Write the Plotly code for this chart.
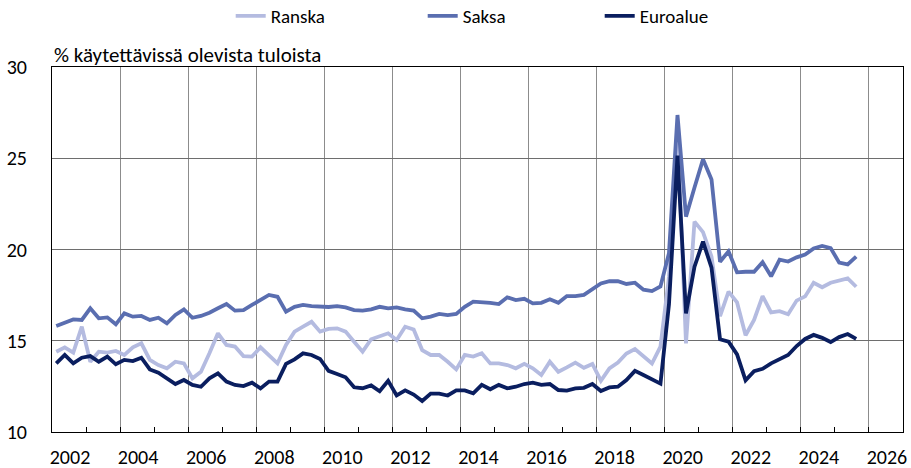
import plotly.graph_objects as go

# quarterly data 2002Q1 .. 2025Q3, % of disposable income
start_year = 2002
ranska = [14.40, 14.64, 14.35, 15.77, 13.85, 14.40, 14.35, 14.44, 14.22, 14.64,
          14.86, 13.95, 13.67, 13.49, 13.85, 13.76, 12.94, 13.30, 14.31, 15.41,
          14.77, 14.68, 14.16, 14.13, 14.64, 14.22, 13.76, 14.77, 15.50, 15.77,
          16.04, 15.50, 15.65, 15.68, 15.50, 14.95, 14.40, 15.08, 15.26, 15.41,
          15.04, 15.77, 15.62, 14.49, 14.22, 14.22, 13.85, 13.43, 14.22, 14.13,
          14.31, 13.76, 13.76, 13.67, 13.49, 13.73, 13.49, 13.12, 13.85, 13.30,
          13.54, 13.80, 13.52, 13.73, 12.81, 13.49, 13.80, 14.30, 14.55, 14.15,
          13.75, 14.68, 18.50, 26.50, 14.86, 21.53, 20.95, 19.61, 16.35, 17.69,
          17.10, 15.30, 16.14, 17.45, 16.55, 16.62, 16.45, 17.20, 17.43, 18.18,
          17.93, 18.18, 18.29, 18.42, 17.96]
saksa = [15.81, 15.99, 16.17, 16.14, 16.78, 16.23, 16.28, 15.90, 16.50, 16.32,
         16.36, 16.14, 16.26, 15.95, 16.41, 16.72, 16.26, 16.36, 16.54, 16.78,
         17.01, 16.65, 16.68, 16.96, 17.23, 17.51, 17.41, 16.59, 16.86, 16.96,
         16.90, 16.86, 16.85, 16.90, 16.83, 16.68, 16.65, 16.72, 16.86, 16.78,
         16.83, 16.72, 16.65, 16.23, 16.32, 16.47, 16.41, 16.47, 16.86, 17.14,
         17.12, 17.08, 17.01, 17.38, 17.23, 17.30, 17.05, 17.08, 17.27, 17.08,
         17.45, 17.45, 17.51, 17.80, 18.14, 18.27, 18.26, 18.11, 18.18, 17.80,
         17.72, 17.98, 19.80, 27.37, 21.80, 23.40, 24.94, 23.83, 19.33, 19.90,
         18.75, 18.78, 18.78, 19.30, 18.53, 19.44, 19.34, 19.57, 19.72, 20.06,
         20.20, 20.08, 19.28, 19.18, 19.61]
euroalue = [13.76, 14.22, 13.76, 14.07, 14.16, 13.85, 14.13, 13.71, 13.95, 13.89,
            14.07, 13.43, 13.25, 12.94, 12.63, 12.85, 12.58, 12.48, 12.94, 13.21,
            12.76, 12.58, 12.52, 12.70, 12.39, 12.76, 12.76, 13.73, 13.98, 14.31,
            14.22, 14.00, 13.35, 13.18, 13.00, 12.45, 12.40, 12.55, 12.23, 12.80,
            12.00, 12.28, 12.05, 11.70, 12.10, 12.10, 12.00, 12.28, 12.28, 12.12,
            12.58, 12.34, 12.58, 12.39, 12.48, 12.63, 12.70, 12.58, 12.63, 12.30,
            12.27, 12.39, 12.42, 12.63, 12.25, 12.44, 12.48, 12.85, 13.35, 13.12,
            12.87, 12.65, 17.00, 25.15, 16.50, 19.06, 20.43, 19.00, 15.08, 14.95,
            14.25, 12.83, 13.33, 13.46, 13.76, 13.97, 14.22, 14.71, 15.10, 15.32,
            15.16, 14.93, 15.20, 15.37, 15.10]

# x position = middle of each quarter
x = [start_year + (i + 0.5) / 4 for i in range(len(euroalue))]

font_family = 'Carlito, Calibri, Lato, sans-serif'

fig = go.Figure()
fig.add_trace(go.Scatter(x=x, y=ranska, mode='lines', name='Ranska',
                         line=dict(color='#b4bbe0', width=3.8), legend='legend'))
fig.add_trace(go.Scatter(x=x, y=saksa, mode='lines', name='Saksa',
                         line=dict(color='#5a6eb0', width=3.8), legend='legend2'))
fig.add_trace(go.Scatter(x=x, y=euroalue, mode='lines', name='Euroalue',
                         line=dict(color='#0a1e5f', width=3.8), legend='legend3'))

# one legend per series so each entry sits where the original has it
def legend_at(px):
    return dict(orientation='h', xref='container', yref='container',
                x=(px - 5.3) / 911, y=1 - 16 / 468, xanchor='left',
                yanchor='middle', font=dict(size=19))

fig.update_layout(
    width=911, height=468,
    margin=dict(l=52, r=8, t=67, b=36),
    paper_bgcolor='white', plot_bgcolor='white',
    font=dict(family=font_family, size=20, color='black'),
    showlegend=True,
    legend=legend_at(236),
    legend2=legend_at(428),
    legend3=legend_at(605),
    annotations=[dict(text='% käytettävissä olevista tuloista',
                      xref='paper', yref='paper', x=0, y=1,
                      xanchor='left', yanchor='bottom', showarrow=False,
                      xshift=0, yshift=-3, font=dict(size=21))],
)

fig.update_xaxes(range=[2002, 2027], tick0=2002, dtick=2, tickformat='d',
                 showgrid=True, gridcolor='#8c8c8c', gridwidth=1,
                 ticks='inside', ticklen=5, tickcolor='black',
                 ticklabelshift=18, ticklabelstandoff=7, automargin=False,
                 minor=dict(dtick=1, tick0=2002, ticks='inside', ticklen=5,
                            tickcolor='black', showgrid=False),
                 showline=True, linecolor='black', linewidth=1, mirror=True,
                 zeroline=False)
fig.update_yaxes(range=[10, 30], dtick=5, showgrid=True, gridcolor='#6e6e6e',
                 gridwidth=1, ticks='', ticklabelstandoff=20, automargin=False,
                 showline=True, linecolor='black', linewidth=1, mirror=True,
                 zeroline=False)

# the page has a default body margin; drop it so the figure fills the window
fig.write_html("out.html", config={'displayModeBar': False},
               post_script="document.body.style.margin='0px';")
